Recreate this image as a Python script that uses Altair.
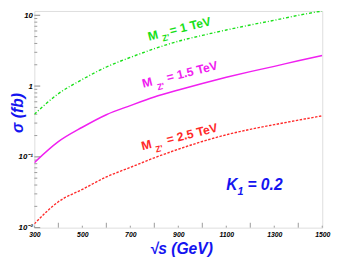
import altair as alt
import pandas as pd

# ---- data ----
sqrt_s = [300, 400, 500, 600, 700, 800, 900, 1000, 1100, 1200, 1300, 1400, 1500]
sigma_mz1 = [0.40, 0.78, 1.24, 1.86, 2.54, 3.37, 4.3, 5.2, 6.2, 7.3, 8.5, 10.0, 11.5]
sigma_mz15 = [0.083, 0.164, 0.262, 0.394, 0.53, 0.70, 0.88, 1.09, 1.33, 1.60, 1.90, 2.28, 2.70]
sigma_mz25 = [0.0113, 0.0232, 0.0347, 0.052, 0.071, 0.097, 0.128, 0.165, 0.205, 0.245, 0.285, 0.330, 0.380]

x_label_values = [300, 500, 700, 900, 1100, 1300, 1500]
x_minor_ticks = [400, 600, 800, 1000, 1200, 1400]
y_tick_values = [0.01, 0.1, 1, 10]
y_tick_labels = ["10\u207b\u00b2", "10\u207b\u00b9", "1\u00a0\u00a0\u00a0", "10\u00a0\u00a0\u00a0"]
y_minor_ticks = [m * d for d in [0.01, 0.1, 1] for m in range(2, 10)]

# annotation pieces
label_main = ["M", "M", "M"]
label_sub = ["Z'", "Z'", "Z'"]
label_rest = ["= 1 TeV", "= 1.5 TeV", "= 2.5 TeV"]
label_m_x = [778, 754, 751]
label_m_y = [4.38, 0.948, 0.124]
label_sub_x = [836, 815, 808]
label_sub_y = [4.27, 0.873, 0.1153]
label_rest_x = [869, 856, 856]
label_rest_y = [5.25, 1.15, 0.1517]

k_text = ["K", "1", "= 0.2"]
k_x = [1100, 1147, 1188]
k_y = [0.0338, 0.0288, 0.0338]
k_size = [16, 11, 16]

GREEN = "#18e018"
MAGENTA = "#f020f0"
RED = "#ff2a2a"
BLUE = "#1414f0"
FONT = "Liberation Sans"

W, H = 295, 222

xs = alt.Scale(domain=[300, 1500], nice=False, zero=False)
ys = alt.Scale(type="log", domain=[0.01, 11.5], nice=False)

label_expr = " : ".join(
    f"datum.value < {v * 1.5} ? '{l}'" for v, l in zip(y_tick_values[:-1], y_tick_labels[:-1])
) + f" : '{y_tick_labels[-1]}'"

x_axis = alt.Axis(
    values=x_label_values, format="d", ticks=False, tickSize=0, domain=False, grid=False,
    labelFont=FONT, labelFontSize=7, labelFontWeight="bold", labelFontStyle="italic",
    labelColor="#000000", labelPadding=3, labelBaseline="top", labelAlign="center",
    labelFlush=False,
    title="\u221as (GeV)", titleFont=FONT, titleFontSize=16, titleFontWeight="bold",
    titleFontStyle="italic", titleColor=BLUE, titleX=150, titleY=22,
    titleAlign="center", titleBaseline="middle",
)
y_axis = alt.Axis(
    values=y_tick_values, ticks=False, tickSize=0, domain=False, grid=False,
    labelExpr=label_expr,
    labelFont=FONT, labelFontSize=8, labelFontWeight="bold", labelFontStyle="italic",
    labelColor="#000000", labelPadding=2, labelBaseline="middle", labelFlush=False,
    title="\u03c3 (fb)", titleFont=FONT, titleFontSize=16, titleFontWeight="bold",
    titleFontStyle="italic", titleColor=BLUE, titleX=-12, titleY=104,
    titleAlign="center", titleBaseline="alphabetic",
)

def curve(vals, color, dash, width):
    df = pd.DataFrame({"s": sqrt_s, "sigma": vals})
    kw = dict(color=color, strokeWidth=width, clip=True, interpolate="monotone")
    if dash:
        kw["strokeDash"] = dash
    return alt.Chart(df).mark_line(**kw).encode(
        x=alt.X("s:Q", scale=xs, axis=x_axis),
        y=alt.Y("sigma:Q", scale=ys, axis=y_axis),
    )

c1 = curve(sigma_mz1, GREEN, [3, 2, 1, 2], 1.4)
c2 = curve(sigma_mz15, MAGENTA, None, 1.5)
c3 = curve(sigma_mz25, RED, [2.5, 1.5], 1.4)

def texts(txts, xv, yv, colors, size, angle, style="normal"):
    df = pd.DataFrame({"t": txts, "x": xv, "y": yv, "c": colors})
    return alt.Chart(df).mark_text(
        align="left", baseline="alphabetic", font=FONT, fontSize=size,
        fontWeight="bold", fontStyle=style, angle=angle,
    ).encode(
        x=alt.X("x:Q", scale=xs), y=alt.Y("y:Q", scale=ys),
        text="t:N", color=alt.Color("c:N", scale=None),
    )

cols = [GREEN, MAGENTA, RED]
t_main = texts(label_main, label_m_x, label_m_y, cols, 12.5, 346)
t_sub = texts(label_sub, label_sub_x, label_sub_y, cols, 9, 346)
t_rest = texts(label_rest, label_rest_x, label_rest_y, cols, 12.5, 346)

kdf = pd.DataFrame({"t": k_text, "x": k_x, "y": k_y, "sz": k_size})
t_k = alt.Chart(kdf).mark_text(
    align="left", baseline="alphabetic", font=FONT, fontWeight="bold",
    fontStyle="italic", color=BLUE,
).encode(
    x=alt.X("x:Q", scale=xs), y=alt.Y("y:Q", scale=ys), text="t:N",
    size=alt.Size("sz:Q", scale=None, legend=None),
)

# inward tick marks
ymaj = alt.Chart(pd.DataFrame({"v": y_tick_values})).mark_rule(color="#888888", strokeWidth=1).encode(
    y=alt.Y("v:Q", scale=ys), x=alt.value(0), x2=alt.value(6))
ymin = alt.Chart(pd.DataFrame({"v": y_minor_ticks})).mark_rule(color="#999999", strokeWidth=1).encode(
    y=alt.Y("v:Q", scale=ys), x=alt.value(0), x2=alt.value(3))
xmin = alt.Chart(pd.DataFrame({"v": x_minor_ticks})).mark_rule(color="#999999", strokeWidth=1).encode(
    x=alt.X("v:Q", scale=xs), y=alt.value(H), y2=alt.value(H - 5))
xmaj = alt.Chart(pd.DataFrame({"v": x_label_values})).mark_rule(color="#999999", strokeWidth=1).encode(
    x=alt.X("v:Q", scale=xs), y=alt.value(H), y2=alt.value(H - 2))

chart = alt.layer(
    ymaj, ymin, xmin, xmaj, c1, c2, c3, t_main, t_sub, t_rest, t_k
).properties(
    width=W, height=H,
    autosize=alt.AutoSizeParams(type="none"),
    padding={"left": 27, "top": 0, "right": 11, "bottom": 27},
).configure_view(
    stroke="#999999", strokeWidth=1, fill="white",
).configure(background="white")

chart.save("out.html", embed_options={"renderer": "svg", "actions": False})
